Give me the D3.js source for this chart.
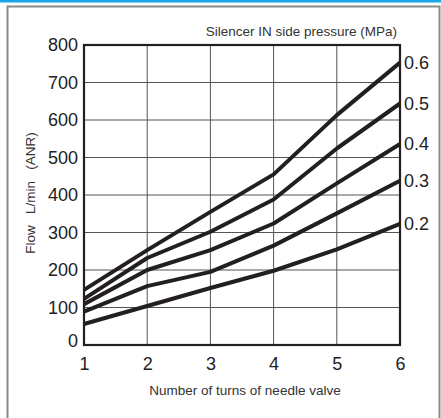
<!DOCTYPE html>
<html>
<head>
<meta charset="utf-8">
<script src="https://cdn.jsdelivr.net/npm/d3@7"></script>
<style>
  body { margin: 0; background: #fff; }
  svg { display: block; font-family: "Liberation Sans", Arial, sans-serif; }
</style>
</head>
<body>
<div id="chart"></div>
<script>
// turns of needle valve
const turns = [1, 2, 3, 4, 5, 6];
// flow L/min (ANR) per IN side pressure
const p02 = [56, 104, 152, 198, 255, 323];
const p03 = [89, 157, 195, 265, 351, 438];
const p04 = [109, 200, 253, 324, 431, 536];
const p05 = [123, 232, 302, 388, 524, 644];
const p06 = [147, 253, 355, 455, 613, 753];
const pressures = ["0.2", "0.3", "0.4", "0.5", "0.6"];
const yTicks = [0, 100, 200, 300, 400, 500, 600, 700, 800];

const series = [p02, p03, p04, p05, p06].map((vals, i) => ({
    name: pressures[i],
    values: vals.map((v, j) => ({x: turns[j], y: v}))
}));

const width = 441, height = 418;
const dims = {left: 84, right: 400, top: 45, bottom: 345};

const svg = d3.select("#chart").append("svg")
    .attr("width", width)
    .attr("height", height);

// top blue rule and outer frame
svg.append("rect")
    .attr("x", 0).attr("y", 0)
    .attr("width", width).attr("height", 2.5)
    .attr("fill", "#1aa6e4");
svg.append("rect")
    .attr("x", 7.5).attr("y", 6.5)
    .attr("width", 432).attr("height", 430)
    .attr("fill", "none")
    .attr("stroke", "#8a8a8a")
    .attr("stroke-width", 2);

/** scales */
const xScale = d3.scaleLinear().domain([1, 6]).range([dims.left, dims.right]);
const yScale = d3.scaleLinear().domain([0, 800]).range([dims.bottom, dims.top]);

/** grid */
const grid = svg.append("g").attr("class", "grid");
grid.selectAll("line.v")
    .data(turns.slice(1, -1))
    .join("line")
    .attr("class", "v")
    .attr("x1", d => xScale(d)).attr("x2", d => xScale(d))
    .attr("y1", dims.top).attr("y2", dims.bottom)
    .attr("stroke", "#555")
    .attr("stroke-width", 1);
grid.selectAll("line.h")
    .data(yTicks.slice(1, -1))
    .join("line")
    .attr("class", "h")
    .attr("x1", dims.left).attr("x2", dims.right)
    .attr("y1", d => yScale(d)).attr("y2", d => yScale(d))
    .attr("stroke", "#555")
    .attr("stroke-width", 1);

/** axes */
const xAxis = svg.append("g")
    .attr("transform", `translate(0, ${dims.bottom})`)
    .call(d3.axisBottom(xScale).tickValues(turns).tickFormat(d3.format("d")).tickSize(0).tickPadding(12));
xAxis.select(".domain").remove();
xAxis.selectAll("text")
    .attr("font-size", 18)
    .attr("font-family", "Liberation Sans, Arial, sans-serif")
    .attr("fill", "#222");

const yAxis = svg.append("g")
    .attr("transform", `translate(${dims.left}, 0)`)
    .call(d3.axisLeft(yScale).tickValues(yTicks).tickSize(0).tickPadding(6));
yAxis.select(".domain").remove();
yAxis.selectAll("text")
    .attr("font-size", 18)
    .attr("font-family", "Liberation Sans, Arial, sans-serif")
    .attr("fill", "#222");
yAxis.selectAll(".tick").filter(d => d === 0).select("text").attr("dy", "0.1em");

/** curves */
const line = d3.line()
    .x(d => xScale(d.x))
    .y(d => yScale(d.y));
svg.append("g").selectAll("path")
    .data(series)
    .join("path")
    .attr("d", d => line(d.values))
    .attr("fill", "none")
    .attr("stroke", "#231f20")
    .attr("stroke-width", 4)
    .attr("stroke-linejoin", "round");

// plot frame
svg.append("rect")
    .attr("x", dims.left).attr("y", dims.top)
    .attr("width", dims.right - dims.left).attr("height", dims.bottom - dims.top)
    .attr("fill", "none")
    .attr("stroke", "#231f20")
    .attr("stroke-width", 2.2);

/** pressure labels */
svg.append("g").selectAll("text")
    .data(series)
    .join("text")
    .attr("x", dims.right + 4)
    .attr("y", d => yScale(d.values[d.values.length - 1].y))
    .attr("dy", "0.35em")
    .attr("font-size", 18)
    .attr("fill", "#222")
    .text(d => d.name);

/** titles */
svg.append("text")
    .attr("x", 397).attr("y", 36)
    .attr("text-anchor", "end")
    .attr("font-size", 13.5)
    .attr("fill", "#333")
    .text("Silencer IN side pressure (MPa)");

svg.append("text")
    .attr("x", 245).attr("y", 395)
    .attr("text-anchor", "middle")
    .attr("font-size", 13.5)
    .attr("fill", "#333")
    .text("Number of turns of needle valve");

svg.append("text")
    .attr("transform", "translate(35, 193) rotate(-90)")
    .attr("text-anchor", "middle")
    .attr("font-size", 13.5)
    .attr("fill", "#333")
    .style("white-space", "pre")
    .text("Flow   L/min   (ANR)");
</script>
</body>
</html>
